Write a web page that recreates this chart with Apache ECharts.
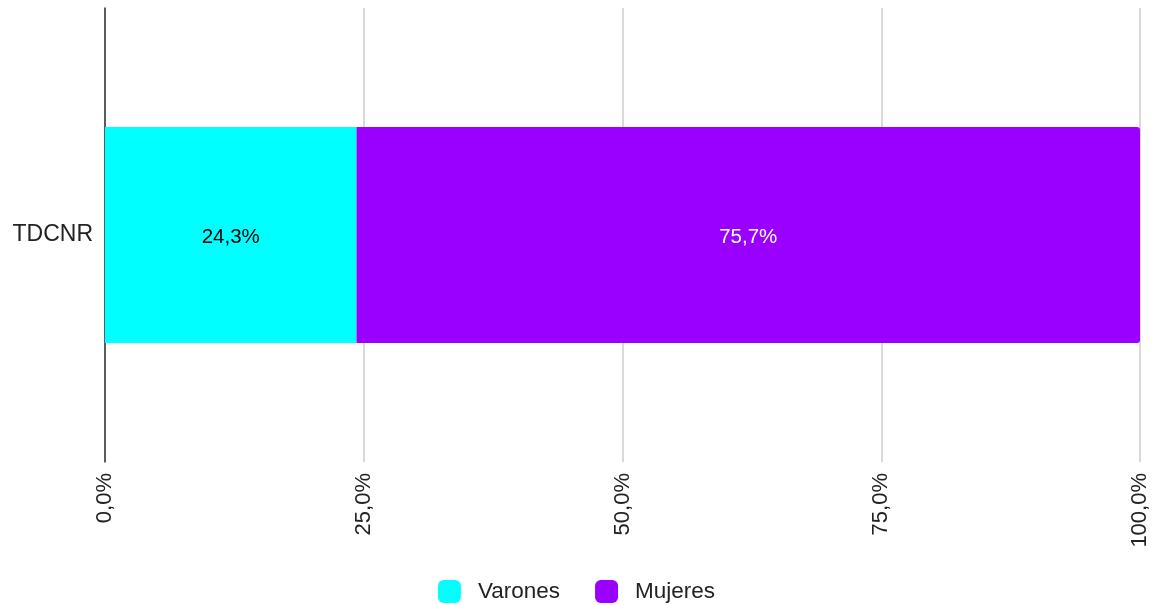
<!DOCTYPE html>
<html><head><meta charset="utf-8">
<script src="https://cdn.jsdelivr.net/npm/echarts@6/dist/echarts.min.js"></script>
<style>html,body{margin:0;padding:0;background:#fff}#c{width:1153px;height:605px}</style>
</head><body><div id="c"></div>
<script>
const categories = ['TDCNR'];
const seriesNames = ['Varones', 'Mujeres'];
const varones = [24.3];
const mujeres = [75.7];
const xTicks = [0, 25, 50, 75, 100];
const colors = ['#00ffff', '#9900ff'];
const labelColors = ['#000000', '#ffffff'];

const fmt = v => v.toFixed(1).replace('.', ',') + '%';
const chart = echarts.init(document.getElementById('c'));
const font = '"Liberation Sans", Arial, sans-serif';
chart.setOption({
  animation: false,
  textStyle: { fontFamily: font },
  grid: { left: 105, right: 13, top: 8, bottom: 143 },
  legend: {
    bottom: 2, left: 'center', padding: 0, itemWidth: 23, itemHeight: 23, itemGap: 35,
    icon: 'roundRect',
    textStyle: { fontSize: 22.5, color: '#222', fontFamily: font, padding: [0, 0, 0, 12] },
    data: seriesNames
  },
  xAxis: {
    type: 'value', min: 0, max: 100, interval: 25,
    axisLine: { show: false }, axisTick: { show: false },
    splitLine: { lineStyle: { color: '#cccccc', width: 1.5 } },
    axisLabel: {
      rotate: 90, fontSize: 22, color: '#222', margin: 11, fontFamily: font,
      formatter: v => xTicks.includes(v) ? fmt(v) : ''
    }
  },
  yAxis: {
    type: 'category', data: categories,
    axisLine: { show: true, lineStyle: { color: '#333', width: 1.5 } },
    axisTick: { show: false },
    axisLabel: { fontSize: 23, color: '#222', margin: 12, fontFamily: font }
  },
  series: [
    { name: seriesNames[0], type: 'bar', stack: 'a', data: varones, barWidth: 216,
      itemStyle: { color: colors[0] },
      label: { show: true, position: 'inside', fontSize: 20.5, color: labelColors[0], formatter: p => fmt(p.value), fontFamily: font, offset: [0, 2] } },
    { name: seriesNames[1], type: 'bar', stack: 'a', data: mujeres, barWidth: 216,
      itemStyle: { color: colors[1], borderRadius: [0, 3, 3, 0] },
      label: { show: true, position: 'inside', fontSize: 20.5, color: labelColors[1], formatter: p => fmt(p.value), fontFamily: font, offset: [0, 2] } }
  ]
});
</script></body></html>
